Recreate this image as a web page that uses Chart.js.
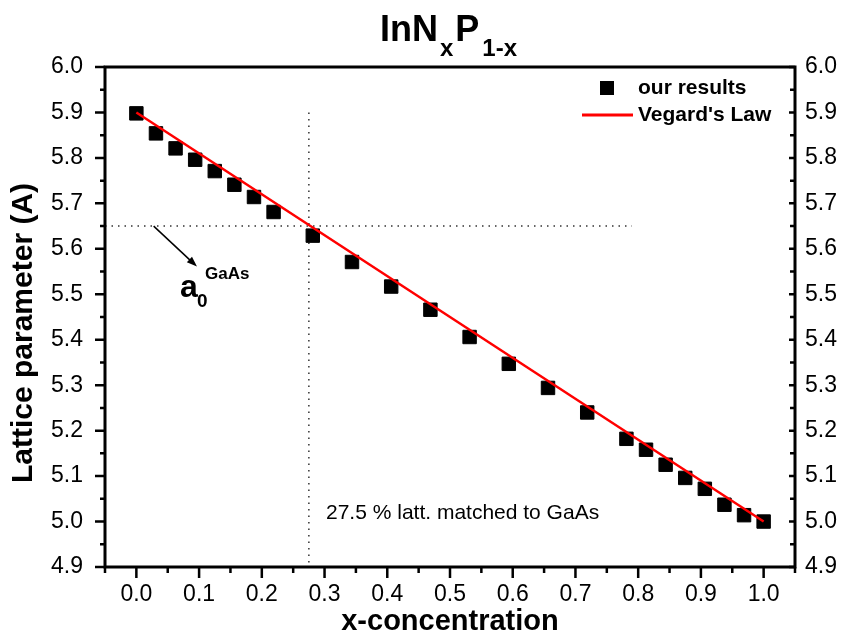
<!DOCTYPE html>
<html>
<head>
<meta charset="utf-8">
<title>InNxP1-x lattice parameter</title>
<script src="https://cdn.jsdelivr.net/npm/chart.js@4.4.0/dist/chart.umd.min.js"></script>
<style>
  html, body { margin: 0; padding: 0; background: #fff; }
  #wrap { width: 841px; height: 637px; position: relative; }
</style>
</head>
<body>
<div id="wrap"><canvas id="lattice-chart"></canvas></div>
<script>
// -- THE DATA --

// calculated points (x-concentration, lattice parameter in A)
const concentration = [0, 0.03125, 0.0625, 0.09375, 0.125, 0.15625, 0.1875, 0.21875,
                       0.28125, 0.34375, 0.40625, 0.46875, 0.53125, 0.59375, 0.65625, 0.71875,
                       0.78125, 0.8125, 0.84375, 0.875, 0.90625, 0.9375, 0.96875, 1.0];
const latticeParam = [5.898, 5.854, 5.821, 5.796, 5.771, 5.741, 5.714, 5.681,
                      5.629, 5.571, 5.517, 5.466, 5.406, 5.347, 5.294, 5.240,
                      5.182, 5.158, 5.125, 5.096, 5.072, 5.037, 5.014, 5.000];

// Vegard's law (linear between the end compounds)
const vegardX = [0, 1];
const vegardY = [5.90, 5.00];

// dotted guide lines: GaAs lattice constant and the matching concentration
const gaasX = [-0.05, 0.79];
const gaasY = [5.65, 5.65];
const matchX = [0.275, 0.275];
const matchY = [5.90, 4.90];

// arrow pointing to the a0 label (data units)
const arrowFrom = [0.0276, 5.65];
const arrowTo = [0.0966, 5.561];

// axis ticks
const xTicks = [0, 0.1, 0.2, 0.3, 0.4, 0.5, 0.6, 0.7, 0.8, 0.9, 1.0];
const xMinor = [-0.05, 0.05, 0.15, 0.25, 0.35, 0.45, 0.55, 0.65, 0.75, 0.85, 0.95, 1.05];
const yTicks = [4.9, 5.0, 5.1, 5.2, 5.3, 5.4, 5.5, 5.6, 5.7, 5.8, 5.9, 6.0];
const yMinor = [4.95, 5.05, 5.15, 5.25, 5.35, 5.45, 5.55, 5.65, 5.75, 5.85, 5.95];

const FONT = "'Liberation Sans', Arial, sans-serif";

const toPoints = (xs, ys) => xs.map((v, i) => ({ x: v, y: ys[i] }));

// -- THE DECORATIONS (frame, ticks, titles, legend, notes) --
const decorations = {
  id: 'decorations',
  afterDatasetsDraw(chart) {
    const { ctx, chartArea: a, scales: { x, y } } = chart;
    ctx.save();

    // frame
    ctx.strokeStyle = '#000';
    ctx.lineWidth = 3;
    ctx.strokeRect(a.left, a.top, a.right - a.left, a.bottom - a.top);

    // tick marks
    ctx.lineWidth = 2.5;
    ctx.beginPath();
    xTicks.forEach(v => { const p = x.getPixelForValue(v); ctx.moveTo(p, a.bottom); ctx.lineTo(p, a.bottom + 11); });
    xMinor.forEach(v => { const p = x.getPixelForValue(v); ctx.moveTo(p, a.bottom); ctx.lineTo(p, a.bottom + 6); });
    yTicks.forEach(v => {
      const p = y.getPixelForValue(v);
      ctx.moveTo(a.left, p); ctx.lineTo(a.left - 10, p);
      ctx.moveTo(a.right, p); ctx.lineTo(a.right - 6, p);
    });
    yMinor.forEach(v => {
      const p = y.getPixelForValue(v);
      ctx.moveTo(a.left, p); ctx.lineTo(a.left - 5, p);
      ctx.moveTo(a.right, p); ctx.lineTo(a.right - 5, p);
    });
    ctx.stroke();

    ctx.fillStyle = '#000';
    ctx.textBaseline = 'alphabetic';
    ctx.textAlign = 'left';

    // title  InN_x P_1-x
    let tx = 380;
    ctx.font = 'bold 36px ' + FONT;
    ctx.fillText('InN', tx, 41); tx += ctx.measureText('InN').width + 2;
    ctx.font = 'bold 24px ' + FONT;
    ctx.fillText('x', tx, 56); tx += ctx.measureText('x').width + 2;
    ctx.font = 'bold 36px ' + FONT;
    ctx.fillText('P', tx, 41); tx += ctx.measureText('P').width + 3;
    ctx.font = 'bold 24px ' + FONT;
    ctx.fillText('1-x', tx, 56);

    // axis titles
    ctx.font = 'bold 29px ' + FONT;
    ctx.textAlign = 'center';
    ctx.textBaseline = 'middle';
    ctx.fillText('x-concentration', (a.left + a.right) / 2, 622);
    ctx.save();
    ctx.translate(24, 333);
    ctx.rotate(-Math.PI / 2);
    ctx.font = 'bold 30px ' + FONT;
    ctx.fillText('Lattice parameter (A)', 0, 0);
    ctx.restore();

    // legend
    ctx.textAlign = 'left';
    ctx.font = 'bold 21px ' + FONT;
    ctx.fillRect(600, 81, 14, 14);
    ctx.fillText('our results', 638, 88);
    ctx.strokeStyle = '#ff0000';
    ctx.lineWidth = 3;
    ctx.beginPath(); ctx.moveTo(582, 115); ctx.lineTo(633, 115); ctx.stroke();
    ctx.fillText("Vegard's Law", 638, 115);

    // note
    ctx.font = '21px ' + FONT;
    ctx.fillText('27.5 % latt. matched to GaAs', 326, 513);

    // arrow to a0
    const x0 = x.getPixelForValue(arrowFrom[0]), y0 = y.getPixelForValue(arrowFrom[1]);
    const x1 = x.getPixelForValue(arrowTo[0]), y1 = y.getPixelForValue(arrowTo[1]);
    const ang = Math.atan2(y1 - y0, x1 - x0);
    ctx.strokeStyle = '#000';
    ctx.lineWidth = 1.5;
    ctx.beginPath(); ctx.moveTo(x0, y0); ctx.lineTo(x1 - 8 * Math.cos(ang), y1 - 8 * Math.sin(ang)); ctx.stroke();
    ctx.beginPath();
    ctx.moveTo(x1, y1);
    ctx.lineTo(x1 - 11 * Math.cos(ang - 0.35), y1 - 11 * Math.sin(ang - 0.35));
    ctx.lineTo(x1 - 11 * Math.cos(ang + 0.35), y1 - 11 * Math.sin(ang + 0.35));
    ctx.closePath();
    ctx.fill();

    // a0 GaAs label
    ctx.textBaseline = 'alphabetic';
    ctx.font = 'bold 32px ' + FONT;
    ctx.fillText('a', 180, 297);
    ctx.font = 'bold 19px ' + FONT;
    ctx.fillText('0', 197, 307);
    ctx.font = 'bold 17px ' + FONT;
    ctx.fillText('GaAs', 205, 279);

    ctx.restore();
  }
};

// -- THE CHART --
function draw() {
  const canvas = document.getElementById('lattice-chart');
  const ctx = canvas.getContext('2d');
  const tickFont = { family: FONT, size: 23 };
  const fixTicks = list => scale => { scale.ticks = list.map(v => ({ value: v })); };

  new Chart(ctx, {
    type: 'scatter',
    data: {
      datasets: [
        {
          label: "Vegard's Law",
          data: toPoints(vegardX, vegardY),
          showLine: true,
          borderColor: '#ff0000',
          borderWidth: 2.5,
          pointRadius: 0,
          order: 0
        },
        {
          label: 'our results',
          data: toPoints(concentration, latticeParam),
          pointStyle: 'rect',
          pointRadius: 9.5,
          backgroundColor: '#000',
          borderColor: '#000',
          borderWidth: 1,
          order: 1
        },
        {
          label: 'a0 GaAs',
          data: toPoints(gaasX, gaasY),
          showLine: true,
          borderColor: '#333',
          borderWidth: 1.5,
          borderDash: [1.5, 5],
          pointRadius: 0,
          order: 2
        },
        {
          label: 'matched',
          data: toPoints(matchX, matchY),
          showLine: true,
          borderColor: '#333',
          borderWidth: 1.5,
          borderDash: [1.5, 5],
          pointRadius: 0,
          order: 2
        }
      ]
    },
    options: {
      responsive: true,
      maintainAspectRatio: false,
      animation: false,
      layout: { padding: { top: 67, left: 0, right: 0, bottom: 0 } },
      plugins: {
        legend: { display: false },
        tooltip: { enabled: false },
        title: { display: false }
      },
      scales: {
        x: {
          type: 'linear',
          position: 'bottom',
          min: -0.05,
          max: 1.05,
          afterBuildTicks: fixTicks(xTicks),
          afterFit: s => { s.height = 70; },
          grid: { display: false, drawTicks: false },
          border: { display: false },
          ticks: { padding: 14, font: tickFont, color: '#000', autoSkip: false, maxRotation: 0,
                   callback: v => v.toFixed(1) }
        },
        y: {
          type: 'linear',
          position: 'left',
          min: 4.9,
          max: 6.0,
          afterBuildTicks: fixTicks(yTicks),
          afterFit: s => { s.width = 105; },
          grid: { display: false, drawTicks: false },
          border: { display: false },
          ticks: { padding: 22, font: tickFont, color: '#000', autoSkip: false,
                   callback: v => v.toFixed(1) }
        },
        y2: {
          type: 'linear',
          position: 'right',
          min: 4.9,
          max: 6.0,
          afterBuildTicks: fixTicks(yTicks),
          afterFit: s => { s.width = 46; },
          grid: { display: false, drawTicks: false },
          border: { display: false },
          ticks: { padding: 10, font: tickFont, color: '#000', autoSkip: false,
                   callback: v => v.toFixed(1) }
        }
      }
    },
    plugins: [decorations]
  });
}

draw();
</script>
</body>
</html>
